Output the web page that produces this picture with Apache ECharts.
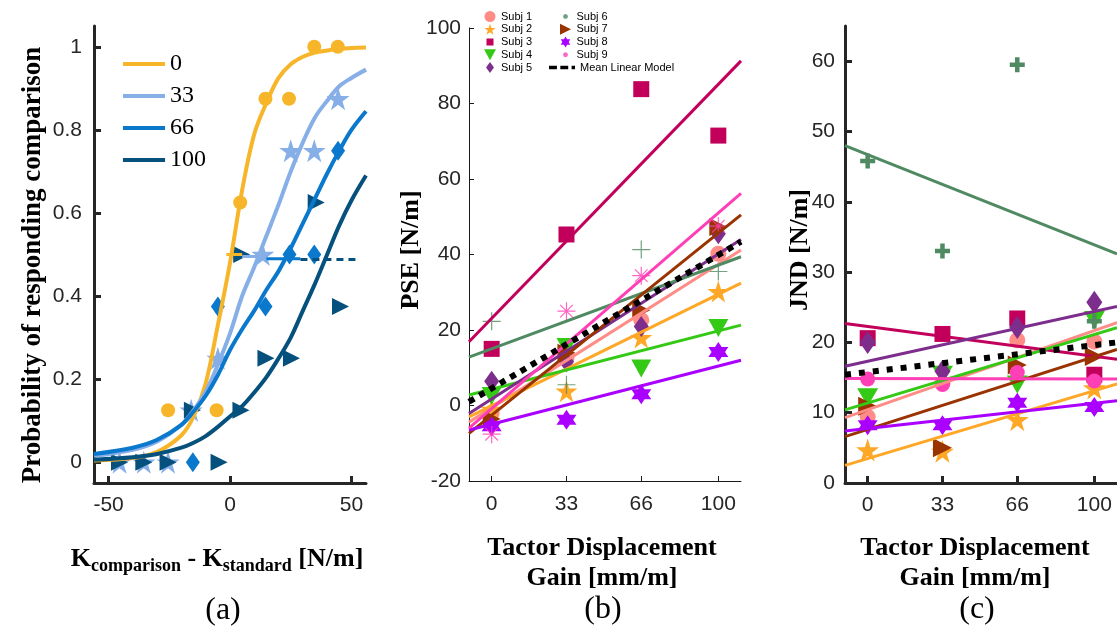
<!DOCTYPE html>
<html><head><meta charset="utf-8">
<script src="https://cdn.jsdelivr.net/npm/echarts@6/dist/echarts.min.js"></script>
<style>html,body{margin:0;padding:0;background:#fff}#c{width:1117px;height:631px}</style>
</head><body><div id="c"></div>
<script>
// ---------- Panel (a) data ----------
const curveX = [-56,-40,-30,-20,-15,-10,-5,0,5,10,15,20,25,30,35,40,45,50,56];
const curve0 = [0.004,0.01,0.025,0.065,0.11,0.19,0.33,0.48,0.655,0.79,0.865,0.925,0.958,0.976,0.986,0.991,0.995,0.997,0.998];
const curve33 = [0.015,0.03,0.05,0.09,0.125,0.17,0.235,0.31,0.4,0.47,0.545,0.62,0.7,0.77,0.83,0.87,0.905,0.925,0.945];
const curve66 = [0.02,0.035,0.054,0.09,0.122,0.16,0.21,0.27,0.32,0.365,0.415,0.46,0.515,0.575,0.635,0.695,0.75,0.8,0.845];
const curve100 = [0.006,0.012,0.02,0.035,0.047,0.063,0.085,0.11,0.135,0.168,0.205,0.25,0.3,0.365,0.43,0.5,0.57,0.63,0.69];
const pts0X = [-25.5,-5.5,4.2,14.6,24.3,34.7,44.4];
const pts0Y = [0.125,0.125,0.625,0.875,0.875,1,1];
const pts33X = [-45.5,-35.5,-25.5,-16,-5,13.5,25,34.7,44.5];
const pts33Y = [0,0,0,0.125,0.25,0.5,0.75,0.75,0.875];
const pts66X = [-15.3,-5,14.6,24.5,34.7,44.5];
const pts66Y = [0,0.375,0.375,0.5,0.5,0.75];
const pts100X = [-45.5,-35.5,-25.5,-4.5,-15.5,4.8,4.5,14.8,25.3,35.5,45.5];
const pts100Y = [0,0,0,0,0.125,0.5,0.125,0.25,0.25,0.625,0.375];
const halfY = [0.5, 0.495, 0.49, 0.488];
const halfSegX = [[-1.5,5],[5,15],[15,29],[29,53]];
const gainNames = ['0','33','66','100'];
const xTicksA = [-50,0,50];
const yTicksA = [0,0.2,0.4,0.6,0.8,1];

// ---------- Panel (b)/(c) data ----------
const gains = [0,33,66,100];
const fitX = [-10,110];
const subjNames = ['Subj 1','Subj 2','Subj 3','Subj 4','Subj 5','Subj 6','Subj 7','Subj 8','Subj 9'];
const pse1 = [-2,12.5,22.6,40.2];
const pse2 = [-1,3.8,18,30.2];
const pse3 = [15,45.3,83.8,71.5];
const pse4 = [2.5,15.5,9.8,20.5];
const pse5 = [6.4,11.6,20.9,45.5];
const pse6 = [22.3,5.5,41.3,35.5];
const pse7 = [-3.6,14,25.2,47.3];
const pse8 = [-5.5,-3.8,3,14.2];
const pse9 = [-7.6,25,34.4,47.5];
const pseFitStart = [-4.4,-3.0,16.9,2.8,-2.1,12.8,-7.4,-6.5,-6.0];
const pseFitEnd = [41.2,32.4,91.3,21.3,44.0,39.4,50.5,12.0,56.2];
const pseMean = [1.0,43.4];
const jnd1 = [9.4,14.2,20.3,20.1];
const jnd2 = [4.7,4.5,9.0,13.5];
const jnd3 = [20.6,21.2,23.4,15.4];
const jnd4 = [12.2,15.4,14.0,23.2];
const jnd5 = [20.0,15.9,22.1,25.7];
const jnd6 = [45.8,33.0,59.5,23.0];
const jnd7 = [10.9,5.0,16.8,18.0];
const jnd8 = [8.2,8.2,11.4,10.8];
const jnd9 = [14.8,14.0,15.7,14.5];
const jndFitStart = [9.3,2.5,22.7,10.4,16.6,48.0,6.6,7.4,14.85];
const jndFitEnd = [22.8,14.1,17.6,22.1,25.1,32.6,19.0,11.7,14.8];
const jndMean = [15.4,20.0];
const yTicksB = [-20,0,20,40,60,80,100];
const yTicksC = [0,10,20,30,40,50,60];

// ---------- styles ----------
const gainColors = ['#F7B52A','#86AEE7','#0A78CC','#05507C'];
const subjColors = ['#FF8C86','#FFA726','#C2005C','#33C914','#7D2E8D','#4F8A62','#993300','#AA00FF','#FF3FB6'];
const STAR = 'path://M10,0L12.245,6.91L19.511,6.91L13.633,11.18L15.878,18.09L10,13.82L4.122,18.09L6.367,11.18L0.489,6.91L7.755,6.91Z';
const HEX = 'path://M10,0L12.887,5L18.66,5L15.77,10L18.66,15L12.887,15L10,20L7.113,15L1.34,15L4.23,10L1.34,5L7.113,5Z';
const RTRI = 'path://M0,0L10,5L0,10Z';
const DTRI = 'path://M0,0L10,0L5,9Z';
const DIAM = 'path://M5,0L10,7L5,14L0,7Z';
const PLUSTHICK = 'path://M3.5,0H6.5V3.5H10V6.5H6.5V10H3.5V6.5H0V3.5H3.5Z';
const PLUSTHIN = 'path://M5,0L5,10M0,5L10,5';
const ASTER = 'path://M5,0L5,10M0,5L10,5M1.5,1.5L8.5,8.5M1.5,8.5L8.5,1.5';
const SMALLDOT = 'path://M0,0M11,11M3,5.5L3.7,3.7L5.5,3L7.3,3.7L8,5.5L7.3,7.3L5.5,8L3.7,7.3Z';
const SMALLSQ = 'path://M0,0M11,11M2,2h7v7h-7z';
const DASHICON = 'path://M0,0h7v3h-7zM10,0h7v3h-7zM20,0h3v3h-3z';

const pseData = [pse1,pse2,pse3,pse4,pse5,pse6,pse7,pse8,pse9];
const jndData = [jnd1,jnd2,jnd3,jnd4,jnd5,jnd6,jnd7,jnd8,jnd9];
const symB = ['circle',STAR,'rect',DTRI,DIAM,PLUSTHIN,RTRI,HEX,ASTER];
const sizeB = [16,22,16,[20,18],[15,21],18,18,20,18];
const symC = ['circle',STAR,'rect',DTRI,DIAM,PLUSTHICK,RTRI,HEX,'circle'];
const sizeC = [16,23,16,[21,18],[16,23],15,19,20,15];

const pair = (xs, ys) => xs.map((x,i)=>[x, ys[i]]);
const series = [];

// Panel (a) markers
[[pts0X,pts0Y,'circle',14],[pts33X,pts33Y,STAR,23],[pts66X,pts66Y,DIAM,[14,20]],[pts100X,pts100Y,RTRI,17]].forEach((d,k)=>{
  series.push({type:'scatter', name:'a-pts-'+k, xAxisIndex:0, yAxisIndex:0, data:pair(d[0],d[1]),
    symbol:d[2], symbolSize:d[3], itemStyle:{color:gainColors[k], opacity:1}, z:2});
});
halfSegX.forEach((xs,k)=>{
  series.push({type:'line', name:'a-half-'+k, xAxisIndex:0, yAxisIndex:0,
    data:pair(xs,[halfY[k],halfY[k]]), showSymbol:false, symbol:'none',
    lineStyle:{color:gainColors[k], width:3, type: k===3?[7,5]:'solid'}, z:3});
});
[curve0,curve33,curve66,curve100].forEach((c,k)=>{
  series.push({type:'line', name:gainNames[k], xAxisIndex:0, yAxisIndex:0, data:pair(curveX,c),
    smooth:0.35, showSymbol:false, symbol:'none', lineStyle:{color:gainColors[k], width:4}, itemStyle:{color:gainColors[k]}, z:4});
});

// Panel (b)
pseData.forEach((d,k)=>{
  const thin = (k===5 || k===8);
  series.push({type:'scatter', name:subjNames[k], xAxisIndex:1, yAxisIndex:1, data:pair(gains,d),
    symbol:symB[k], symbolSize:sizeB[k],
    itemStyle: thin ? {color:'rgba(0,0,0,0)', borderColor:subjColors[k], borderWidth:1.2} : {color:subjColors[k], opacity:1}, z:2});
});
pseData.forEach((d,k)=>{
  series.push({type:'line', name:'b-fit-'+k, xAxisIndex:1, yAxisIndex:1, data:pair(fitX,[pseFitStart[k],pseFitEnd[k]]),
    showSymbol:false, symbol:'none', lineStyle:{color:subjColors[k], width:3}, z:3});
});
series.push({type:'line', name:'Mean Linear Model', xAxisIndex:1, yAxisIndex:1, data:pair(fitX,pseMean),
  showSymbol:false, symbol:'none', lineStyle:{color:'#000', width:6, type:[6,6]}, itemStyle:{color:'#000'}, z:4});

// Panel (c)
jndData.forEach((d,k)=>{
  series.push({type:'scatter', name:'c-'+k, xAxisIndex:2, yAxisIndex:2, data:pair(gains,d),
    symbol:symC[k], symbolSize:sizeC[k], itemStyle:{color:subjColors[k], opacity:1}, z:2});
});
jndData.forEach((d,k)=>{
  series.push({type:'line', name:'c-fit-'+k, xAxisIndex:2, yAxisIndex:2, data:pair(fitX,[jndFitStart[k],jndFitEnd[k]]),
    showSymbol:false, symbol:'none', lineStyle:{color:subjColors[k], width:3}, z:3});
});
series.push({type:'line', name:'c-mean', xAxisIndex:2, yAxisIndex:2, data:pair(fitX,jndMean),
  showSymbol:false, symbol:'none', lineStyle:{color:'#000', width:6, type:[6,8]}, z:4});

const tickFont = {fontFamily:'Liberation Sans, Arial, sans-serif', fontSize:21, color:'#262626'};
function valAxis(grid, min, max, ticks, thick, margin){
  return {type:'value', gridIndex:grid, min:min, max:max,
    axisLine:{show:true, onZero:false, lineStyle:{color: thick?'#262626':'#1a1a1a', width: thick?3:1}},
    axisTick:{show:true, inside:true, length: thick?7:5, customValues:ticks, lineStyle:{color: thick?'#262626':'#1a1a1a', width: thick?3:1}},
    axisLabel:Object.assign({show:true, customValues:ticks, margin:margin, formatter: v=>String(Math.round(v*10)/10)}, tickFont),
    splitLine:{show:false}};
}

const serif = 'Liberation Serif, Times New Roman, serif';
const sans = 'Liberation Sans, Arial, sans-serif';
const option = {
  animation:false,
  backgroundColor:'#fff',
  grid:[
    {left:94, top:26, width:272, height:457},
    {left:469, top:28, width:272, height:453},
    {left:845, top:26, width:272, height:457}
  ],
  xAxis:[
    valAxis(0,-56,56,xTicksA,true,12),
    valAxis(1,-10,110,gains,false,13),
    valAxis(2,-10,110,gains,true,12)
  ],
  yAxis:[
    valAxis(0,-0.05,1.05,yTicksA,true,12),
    valAxis(1,-20,100,yTicksB,false,8),
    valAxis(2,0,65,yTicksC,true,10)
  ],
  legend:[
    {orient:'vertical', left:118, top:45, itemWidth:42, itemHeight:4, itemGap:4,
      data:gainNames.map((n,k)=>({name:n, icon:'rect', itemStyle:{color:gainColors[k]}})),
      textStyle:{fontFamily:serif, fontSize:24, color:'#000', lineHeight:28}},
    {orient:'vertical', left:479, top:6, itemWidth:12, itemHeight:11, itemGap:1.75,
      data:subjNames.slice(0,5).map((n,k)=>({name:n, icon:['circle', STAR, SMALLSQ, DTRI, DIAM][k]})),
      textStyle:{fontFamily:sans, fontSize:11, color:'#000', lineHeight:11}},
    {orient:'vertical', left:555, top:6, itemWidth:12, itemHeight:11, itemGap:1.75,
      data:subjNames.slice(5,9).map((n,k)=>({name:n, icon:[SMALLDOT, RTRI, HEX, SMALLDOT][k], itemStyle:{color:subjColors[5+k], borderWidth:0}})),
      textStyle:{fontFamily:sans, fontSize:11, color:'#000', lineHeight:11}},
    {orient:'vertical', left:544, top:57, itemWidth:26, itemHeight:11,
      data:[{name:'Mean Linear Model', icon:DASHICON}],
      textStyle:{fontFamily:sans, fontSize:11, color:'#000', lineHeight:11}}
  ],
  graphic:[
    {type:'text', x:33, y:265, rotation:Math.PI/2, style:{text:'Probability of responding comparison', font:'bold 27px '+serif, fill:'#000', align:'center', verticalAlign:'middle'}},
    {type:'text', x:217, y:559, style:{text:'{m|K}{s|comparison}{m| - K}{s|standard}{m| [N/m]}', align:'center', verticalAlign:'middle', fill:'#000',
      rich:{m:{fontFamily:serif, fontWeight:'bold', fontSize:26, lineHeight:30, verticalAlign:'middle'}, s:{fontFamily:serif, fontWeight:'bold', fontSize:18, lineHeight:18, padding:[14,0,0,0], verticalAlign:'middle'}}}},
    {type:'text', x:223, y:611, style:{text:'(a)', font:'32px '+serif, fill:'#000', align:'center', verticalAlign:'middle'}},
    {type:'text', x:411, y:250, rotation:Math.PI/2, style:{text:'PSE [N/m]', font:'bold 26px '+serif, fill:'#000', align:'center', verticalAlign:'middle'}},
    {type:'text', x:602, y:548, style:{text:'Tactor Displacement', font:'bold 26px '+serif, fill:'#000', align:'center', verticalAlign:'middle'}},
    {type:'text', x:602, y:578, style:{text:'Gain [mm/m]', font:'bold 26px '+serif, fill:'#000', align:'center', verticalAlign:'middle'}},
    {type:'text', x:603, y:610, style:{text:'(b)', font:'32px '+serif, fill:'#000', align:'center', verticalAlign:'middle'}},
    {type:'text', x:800, y:250, rotation:Math.PI/2, style:{text:'JND [N/m]', font:'bold 26px '+serif, fill:'#000', align:'center', verticalAlign:'middle'}},
    {type:'text', x:975, y:548, style:{text:'Tactor Displacement', font:'bold 26px '+serif, fill:'#000', align:'center', verticalAlign:'middle'}},
    {type:'text', x:975, y:578, style:{text:'Gain [mm/m]', font:'bold 26px '+serif, fill:'#000', align:'center', verticalAlign:'middle'}},
    {type:'text', x:977, y:610, style:{text:'(c)', font:'32px '+serif, fill:'#000', align:'center', verticalAlign:'middle'}}
  ],
  series: series
};
const chart = echarts.init(document.getElementById('c'), null, {renderer:'canvas'});
chart.setOption(option);
</script></body></html>
